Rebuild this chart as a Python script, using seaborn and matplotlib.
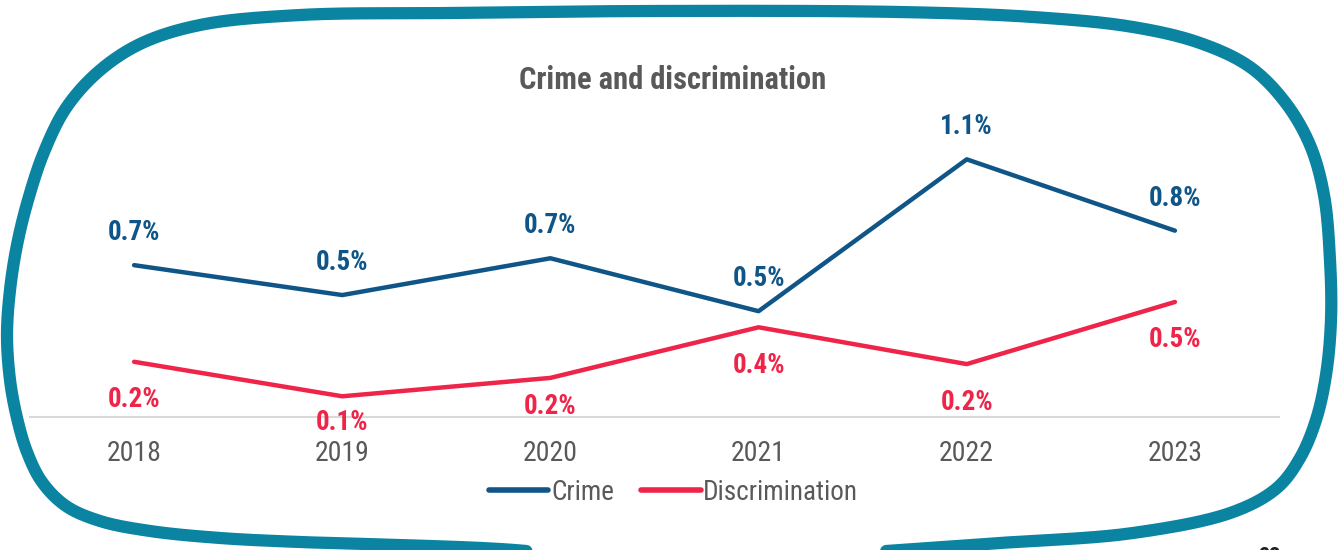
import numpy as np
import pandas as pd
import matplotlib
matplotlib.use("Agg")
import matplotlib.pyplot as plt
import seaborn as sns

# ---- data ----
years = ["2018", "2019", "2020", "2021", "2022", "2023"]
crime = [0.66, 0.53, 0.69, 0.46, 1.12, 0.81]
discrimination = [0.24, 0.09, 0.17, 0.39, 0.23, 0.50]
series_names = ["Crime", "Discrimination"]
title_text = "Crime and discrimination"
page_number = "23"

colors = {"Crime": "#0f5587", "Discrimination": "#ee2449"}
border_color = "#0a84a1"
text_gray = "#595959"
# label offsets below the Discrimination points (pixels, style only)
disc_label_gap = [45, 34, 36, 46, 46, 45]

df = pd.DataFrame({
    "year": years * 2,
    "value": crime + discrimination,
    "series": [series_names[0]] * len(years) + [series_names[1]] * len(years),
})

sns.set_theme(style="white")
plt.rcParams["font.family"] = ["Liberation Sans Narrow", "Roboto Condensed", "DejaVu Sans"]
plt.rcParams["font.stretch"] = "condensed"

W, H = 1339, 550
fig = plt.figure(figsize=(W / 100, H / 100), dpi=100)

# decorative hand-drawn border (overlay in pixel coordinates)
bax = fig.add_axes([0, 0, 1, 1], zorder=0)
bax.set_xlim(0, W)
bax.set_ylim(H, 0)
bax.axis("off")
pts = np.array([
    (450, 13), (650, 11), (900, 12), (1033, 17), (1133, 27), (1200, 43),
    (1250, 67), (1285, 102), (1310, 145), (1324, 195), (1330, 260), (1331, 320),
    (1326, 375), (1316, 420), (1300, 458), (1277, 488), (1233, 512), (1133, 533),
    (1000, 543), (900, 550), (750, 560), (600, 557), (500, 549),
    (400, 545), (300, 542), (220, 538), (150, 531), (100, 521), (66, 506),
    (42, 482), (27, 452), (17, 418), (10, 380), (7, 335), (10, 290), (17, 245),
    (28, 200), (44, 152), (66, 108), (98, 72), (140, 44), (200, 25), (300, 15),
], dtype=float)

def catmull_centripetal_closed(p, n=30, alpha=0.5):
    out = []
    m = len(p)
    for i in range(m):
        P0, P1, P2, P3 = p[(i - 1) % m], p[i], p[(i + 1) % m], p[(i + 2) % m]
        t0 = 0.0
        t1 = t0 + np.linalg.norm(P1 - P0) ** alpha
        t2 = t1 + np.linalg.norm(P2 - P1) ** alpha
        t3 = t2 + np.linalg.norm(P3 - P2) ** alpha
        t = np.linspace(t1, t2, n, endpoint=False)[:, None]
        A1 = (t1 - t) / (t1 - t0) * P0 + (t - t0) / (t1 - t0) * P1
        A2 = (t2 - t) / (t2 - t1) * P1 + (t - t1) / (t2 - t1) * P2
        A3 = (t3 - t) / (t3 - t2) * P2 + (t - t2) / (t3 - t2) * P3
        B1 = (t2 - t) / (t2 - t0) * A1 + (t - t0) / (t2 - t0) * A2
        B2 = (t3 - t) / (t3 - t1) * A2 + (t - t1) / (t3 - t1) * A3
        C = (t2 - t) / (t2 - t1) * B1 + (t - t1) / (t2 - t1) * B2
        out.append(C)
    out = np.vstack(out)
    return np.vstack([out, out[:1]])

curve = catmull_centripetal_closed(pts)
bax.plot(curve[:, 0], curve[:, 1], color=border_color, lw=8.8, solid_capstyle="round",
         solid_joinstyle="round", clip_on=False)
bax.text(1258, 546, page_number, ha="left", va="top", fontsize=16, fontweight="bold",
         color="#222222")

# main chart axes
ax = fig.add_axes([30 / W, 1 - 417 / H, (1279 - 30) / W, (417 - 120) / H], zorder=1)
ax.patch.set_alpha(0)
sns.lineplot(data=df, x="year", y="value", hue="series", palette=colors, lw=3.2,
             ax=ax, sort=False)
ax.set_xlim(-0.5, len(years) - 0.5)
ax.set_ylim(0, 1.291)
ax.set_xlabel("")
ax.set_ylabel("")
ax.set_yticks([])
for s in ["left", "right", "top"]:
    ax.spines[s].set_visible(False)
ax.spines["bottom"].set_color("#d9d9d9")
ax.spines["bottom"].set_linewidth(1.5)
ax.tick_params(axis="x", length=0, pad=16.5, labelsize=20, labelcolor=text_gray)

for i, v in enumerate(crime):
    ax.annotate(f"{v:.1f}%", (i, v), xytext=(0, 25), textcoords="offset pixels",
                ha="center", va="baseline", fontsize=19.5, fontweight="bold",
                color=colors["Crime"])
for i, v in enumerate(discrimination):
    ax.annotate(f"{v:.1f}%", (i, v), xytext=(0, -disc_label_gap[i]),
                textcoords="offset pixels", ha="center", va="baseline", fontsize=19.5,
                fontweight="bold", color=colors["Discrimination"], annotation_clip=False)

handles, labels = ax.get_legend_handles_labels()
ax.get_legend().remove()
for h in handles:
    h.set_linewidth(4.0)
    h.set_solid_capstyle("round")
fig.legend(handles, labels, loc="center", bbox_to_anchor=(0.503, 1 - 492 / H), ncol=2,
           frameon=False, fontsize=19.5, labelcolor=text_gray, handlelength=2.2,
           handletextpad=0.1, columnspacing=1.0)

fig.text(0.502, 1 - 89 / H, title_text, ha="center", va="baseline", fontsize=22,
         fontweight="bold", color=text_gray)

fig.savefig("out.png", dpi=100)
